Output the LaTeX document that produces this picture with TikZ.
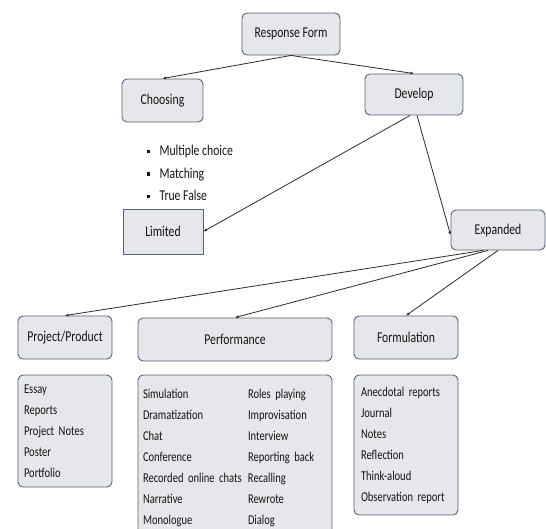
\documentclass[tikz,border=0pt]{standalone}
\usepackage{fontspec}
\setmainfont{Carlito}[FakeStretch=0.78]
\usetikzlibrary{arrows.meta}
\definecolor{boxfill}{HTML}{E6E7EB}
\definecolor{boxline}{HTML}{566173}
\definecolor{linkcol}{HTML}{2B2B2B}
\newcommand{\sqbullet}{\rule[2.5pt]{3pt}{3.5pt}\hspace{10pt}}
\begin{document}
\begin{tikzpicture}[x=1pt, y=-1pt,
        formbox/.style={draw=boxline, fill=boxfill, rounded corners=5pt, line width=0.9pt,
            inner sep=0pt, text=black!92, font=\fontsize{15}{18}\selectfont},
        listbox/.style={formbox, align=left, inner xsep=6pt, font=\fontsize{13.5}{21}\selectfont},
        link/.style={draw=linkcol, line width=0.8pt, -{Latex[length=3.5pt,width=3pt]}}]

        \useasboundingbox (0,0) rectangle (546,528);

        % Response form and its two kinds
        \node[formbox, minimum width=98pt, minimum height=42pt] (resp) at (291,34) {Response Form};
        \node[formbox, minimum width=81pt, minimum height=43pt] (choose) at (162.5,100.5) {Choosing};
        \node[formbox, minimum width=98pt, minimum height=41pt] (develop) at (414,94.5) {Develop};

        % Choosing items
        \node[anchor=west, align=left, text=black!92, font=\fontsize{15}{22.5}\selectfont] (choices) at (143,173)
            {\sqbullet Multiple choice\\ \sqbullet Matching\\ \sqbullet True False};

        % Limited and expanded
        \node[formbox, rounded corners=0pt, minimum width=80pt, minimum height=45pt] (limited) at (163,231.5) {Limited};
        \node[formbox, minimum width=94pt, minimum height=40pt] (expanded) at (498,230) {Expanded};

        % Kinds of expanded response
        \node[formbox, minimum width=94pt, minimum height=43pt] (product) at (65,337.5) {Project/Product};
        \node[formbox, minimum width=194pt, minimum height=43pt] (perform) at (235,339.5) {Performance};
        \node[formbox, minimum width=104pt, minimum height=43pt] (formul) at (406,337.5) {Formulation};

        % Lists
        \node[listbox, text width=82pt, minimum height=112pt] (productlist) at (65,431)
            {Essay\\ Reports\\ Project Notes\\ Poster\\ Portfolio};
        \node[listbox, inner xsep=5pt, text width=184pt, minimum height=164pt] (performlist) at (235,457)
            {\begin{tabular}{@{}p{105pt}@{}l@{}}
                Simulation & Roles playing\\
                Dramatization & Improvisation\\
                Chat & Interview\\
                Conference & Reporting back\\
                Recorded online chats & Recalling\\
                Narrative & Rewrote\\
                Monologue & Dialog
            \end{tabular}};
        \node[listbox, inner xsep=7pt, text width=90pt, minimum height=140pt] (formullist) at (406,445)
            {Anecdotal reports\\ Journal\\ Notes\\ Reflection\\ Think-aloud\\ Observation report};

        % Connectors
        \draw[link] (resp.south) -- (choose.north);
        \draw[link] (resp.south) -- (develop.north);
        \draw[link] ([xshift=-4pt]develop.south) -- (limited.east);
        \draw[link] ([xshift=3pt]develop.south) -- ([yshift=-5pt]expanded.west);
        \draw[link] ([xshift=-15pt]expanded.south) -- (product.north);
        \draw[link] ([xshift=-10pt]expanded.south) -- (perform.north);
        \draw[link] (expanded.south) -- (formul.north);
    \end{tikzpicture}
\end{document}
